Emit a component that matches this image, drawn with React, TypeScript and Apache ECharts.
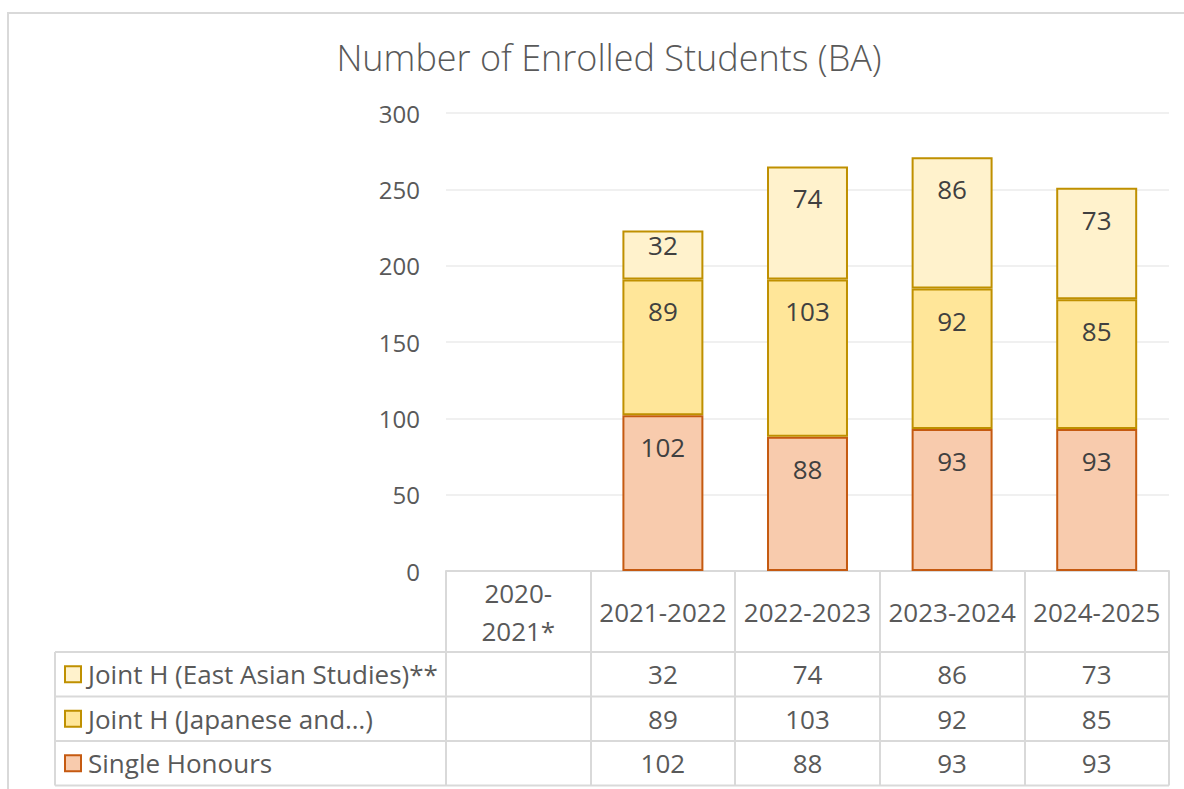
import React, { useEffect, useRef } from "react";
import * as echarts from "echarts";

const categories = ["2020-2021*", "2021-2022", "2022-2023", "2023-2024", "2024-2025"];
const seriesNames = ["Joint H (East Asian Studies)**", "Joint H (Japanese and…)", "Single Honours"];
const eastAsian: (number | null)[] = [null, 32, 74, 86, 73];
const japaneseAnd: (number | null)[] = [null, 89, 103, 92, 85];
const singleHonours: (number | null)[] = [null, 102, 88, 93, 93];
const yTicks = { min: 0, max: 300, interval: 50 };

const FONT = "'Open Sans', sans-serif";
const TEXT = "#595959";
const GRID_LINE = "#D9D9D9";

const styles = [
  { fill: "#FFF2CC", border: "#BF9000" },
  { fill: "#FFE699", border: "#BF9000" },
  { fill: "#F8CBAD", border: "#C55A11" },
];

const G = { left: 446, right: 15, top: 113, bottom: 218 };
const HEADER_H = 81;
const ROW_H = 44.5;
const TABLE_LEFT = 55;

function dataWithLabels(vals: (number | null)[]) {
  return vals.map((v) => {
    if (v == null) return null;
    const px = v * ((789 - G.top - G.bottom) / yTicks.max);
    return { value: v, label: { distance: px < 70 ? 1 : 19 } };
  });
}

export default function App() {
  const ref = useRef<HTMLDivElement>(null);
  useEffect(() => {
    if (!ref.current) return;
    const chart = echarts.init(ref.current, undefined, { renderer: "svg" });
    const mk = (name: string, vals: (number | null)[], st: { fill: string; border: string }) => ({
      name,
      type: "bar",
      stack: "total",
      barWidth: "56%",
      data: dataWithLabels(vals),
      itemStyle: { color: st.fill, borderColor: st.border, borderWidth: 2 },
      label: {
        show: true,
        position: "insideTop",
        fontFamily: FONT,
        fontSize: 26,
        color: "#404040",
      },
    });
    chart.setOption({
      animation: false,
      title: {
        text: "Number of Enrolled Students (BA)",
        left: 604,
        top: 34,
        textAlign: "center",
        textStyle: { fontFamily: FONT, fontWeight: 300, fontSize: 36, color: TEXT },
      },
      grid: { left: G.left, right: G.right, top: G.top, bottom: G.bottom },
      xAxis: {
        type: "category",
        data: categories,
        axisLine: { show: true, lineStyle: { color: GRID_LINE, width: 2 } },
        axisTick: {
          show: true,
          interval: 0,
          length: HEADER_H + ROW_H * 3,
          lineStyle: { color: GRID_LINE, width: 2 },
        },
        axisLabel: {
          interval: 0,
          margin: HEADER_H / 2,
          verticalAlign: "middle",
          fontFamily: FONT,
          fontSize: 26,
          color: TEXT,
          lineHeight: 38,
          formatter: (s: string) => (s.length > 9 ? s.replace("-", "-\n") : s),
        },
      },
      yAxis: {
        type: "value",
        min: yTicks.min,
        max: yTicks.max,
        interval: yTicks.interval,
        axisLine: { show: false },
        axisTick: { show: false },
        splitLine: { lineStyle: { color: "#EBEBEB", width: 1.5 } },
        axisLabel: { margin: 26, fontFamily: FONT, fontSize: 24, color: TEXT },
      },
      series: [
        mk(seriesNames[2], singleHonours, styles[2]),
        mk(seriesNames[1], japaneseAnd, styles[1]),
        mk(seriesNames[0], eastAsian, styles[0]),
      ],
    });

    const rows = [eastAsian, japaneseAnd, singleHonours];
    const baseY = 789 - G.bottom + HEADER_H;
    const right = 1184 - G.right;
    const els: any[] = [];
    els.push({
      type: "rect",
      shape: { x: 8, y: 13, width: 1200, height: 800 },
      style: { fill: "none", stroke: GRID_LINE, lineWidth: 2 },
      silent: true,
    });
    for (let r = 0; r <= 3; r++) {
      const y = baseY + r * ROW_H;
      els.push({
        type: "line",
        shape: { x1: TABLE_LEFT, y1: y, x2: right, y2: y },
        style: { stroke: GRID_LINE, lineWidth: 2 },
      });
    }
    els.push({
      type: "line",
      shape: { x1: TABLE_LEFT, y1: baseY, x2: TABLE_LEFT, y2: baseY + 3 * ROW_H },
      style: { stroke: GRID_LINE, lineWidth: 2 },
    });
    rows.forEach((vals, r) => {
      const cy = baseY + (r + 0.5) * ROW_H;
      els.push({
        type: "rect",
        shape: { x: 65, y: cy - 8, width: 16, height: 16 },
        style: { fill: styles[r].fill, stroke: styles[r].border, lineWidth: 2 },
      });
      els.push({
        type: "text",
        x: 88,
        y: cy,
        style: {
          text: seriesNames[r],
          fontFamily: FONT,
          fontSize: 26,
          fill: TEXT,
          verticalAlign: "middle",
          align: "left",
        },
      });
      vals.forEach((v, i) => {
        if (v == null) return;
        const x = chart.convertToPixel({ xAxisIndex: 0 }, i) as number;
        els.push({
          type: "text",
          x,
          y: cy,
          style: {
            text: String(v),
            fontFamily: FONT,
            fontSize: 26,
            fill: TEXT,
            verticalAlign: "middle",
            align: "center",
          },
        });
      });
    });
    chart.setOption({ graphic: { elements: els } });
    return () => chart.dispose();
  }, []);
  return (
    <div
      ref={ref}
      style={{ position: "absolute", left: 0, top: 0, width: 1184, height: 789, background: "#fff" }}
    />
  );
}
